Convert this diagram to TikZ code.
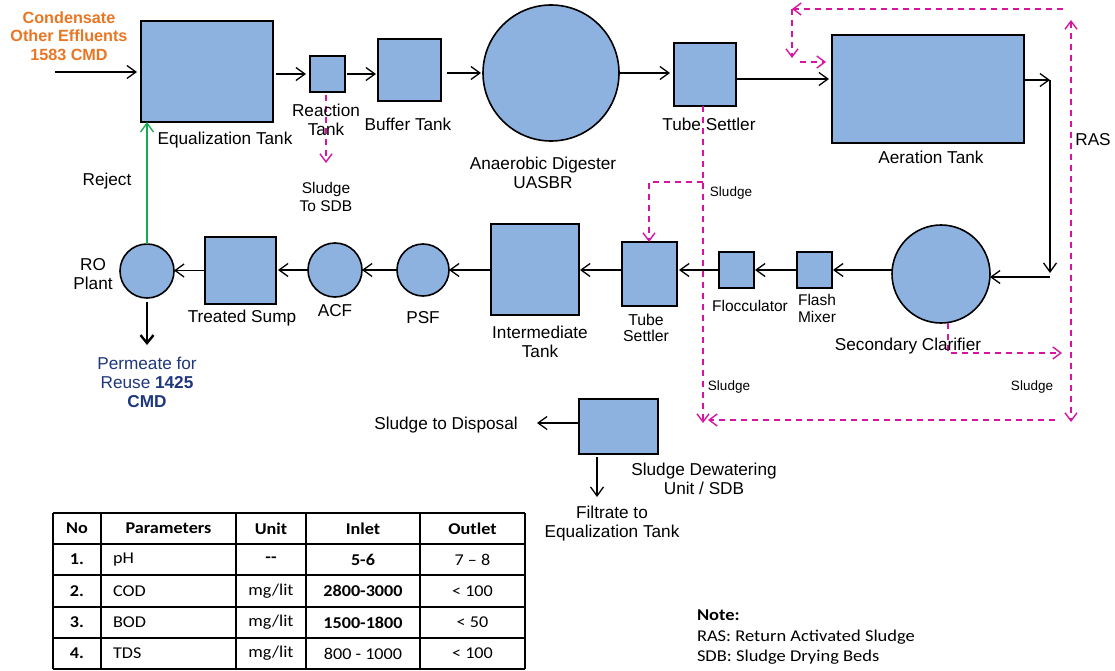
\documentclass[tikz,border=0pt]{standalone}
\usepackage{fontspec}
\setmainfont{Liberation Sans}
\newfontfamily\tabfont[FakeStretch=1.1]{Carlito}
\newfontfamily\notefont[FakeStretch=1.12]{Carlito}
\usetikzlibrary{arrows.meta}
\definecolor{tankblue}{RGB}{142,178,224}
\definecolor{sludgemag}{RGB}{214,20,160}
\definecolor{inorange}{RGB}{232,118,34}
\definecolor{outblue}{RGB}{30,55,125}
\definecolor{rejgreen}{RGB}{20,170,80}
\begin{document}
\begin{tikzpicture}[x=1pt,y=-1pt,
  every node/.style={inner sep=0pt, outer sep=0pt},
  tank/.style={draw=black, fill=tankblue, line width=1.6pt, rectangle},
  vessel/.style={draw=black, fill=tankblue, line width=1.6pt, circle},
  lbl/.style={font=\fontsize{17.2}{19}\selectfont, align=center},
  slbl/.style={font=\fontsize{15.5}{17}\selectfont, align=center},
  tlbl/.style={font=\fontsize{13.5}{16}\selectfont, align=center},
  flow/.style={line width=1.3pt, -{Straight Barb[length=9pt,width=13pt,line width=1.3pt]}},
  sludge/.style={draw=sludgemag, line width=1.5pt, dash pattern=on 6pt off 5pt},
  sarrow/.style={-{Straight Barb[length=8pt,width=12pt,line width=1.4pt]}},
  tabtxt/.style={font=\tabfont\fontsize{16.5}{18}\selectfont},
  tabhead/.style={font=\tabfont\bfseries\fontsize{16.5}{18}\selectfont},
]
\useasboundingbox (0,0) rectangle (1115,671);

% ---------- tanks ----------
\node[tank, minimum width=132pt, minimum height=101pt] (eq) at (207,71.5) {};
\node[tank, minimum width=35pt, minimum height=36pt] (react) at (327.5,74) {};
\node[tank, minimum width=63pt, minimum height=62pt] (buffer) at (409.5,70) {};
\node[vessel, minimum size=136pt] (uasbr) at (551,73) {};
\node[tank, minimum width=62pt, minimum height=63pt] (ts1) at (705,74.5) {};
\node[tank, minimum width=192pt, minimum height=108pt] (aer) at (928,89) {};
\node[vessel, minimum size=98pt] (clar) at (941,274) {};
\node[tank, minimum width=35pt, minimum height=36pt] (flash) at (814.5,270) {};
\node[tank, minimum width=35pt, minimum height=36pt] (floc) at (736.5,270) {};
\node[tank, minimum width=55pt, minimum height=64pt] (ts2) at (649.5,274) {};
\node[tank, minimum width=88pt, minimum height=91pt] (inter) at (535,269.5) {};
\node[vessel, minimum size=52pt] (psf) at (423,270) {};
\node[vessel, minimum size=54pt] (acf) at (335,270) {};
\node[tank, minimum width=71pt, minimum height=67pt] (sump) at (240.5,270.5) {};
\node[vessel, minimum size=54pt] (ro) at (147,271) {};
\node[tank, minimum width=79pt, minimum height=55pt] (sdu) at (618.5,426.5) {};

% ---------- coordinates ----------
\coordinate (in) at (55,72);
\coordinate (c1) at (1050,80);
\coordinate (c2) at (1050,273);
\coordinate (c3) at (1050,277);
\coordinate (perm) at (147,345);
\coordinate (disp) at (537,423);
\coordinate (filt) at (597,497);
\coordinate (rs) at (326,163);
\coordinate (t1) at (703,182);
\coordinate (t2) at (649,182);
\coordinate (t3) at (703,423);
\coordinate (k1) at (948,353);
\coordinate (k2) at (1062,353);
\coordinate (r1) at (1071,422);
\coordinate (r2) at (1071,20);
\coordinate (q1) at (1063,9);
\coordinate (q2) at (792,9);
\coordinate (q3) at (792,58);
\coordinate (q4) at (800,62);
\coordinate (q5) at (826,62);
\coordinate (b1) at (1055,420);
\coordinate (b2) at (708,420);

% ---------- main flow ----------
\draw[flow, shorten >=4pt] (in) -- (in -| eq.west);
\draw[flow, shorten <=3pt, shorten >=4pt] (eq.east |- react) -- (react.west);
\draw[flow, shorten <=2pt, shorten >=2pt] (react.east) -- (react -| buffer.west);
\draw[flow, shorten <=6pt, shorten >=2pt] (buffer.east |- uasbr) -- (uasbr.west);
\draw[flow, shorten >=4pt] (uasbr.east) -- (uasbr -| ts1.west);
\draw[flow, shorten >=3pt] ([yshift=-4.5pt]ts1.east) -- ([yshift=-4.5pt]ts1.east -| aer.west);
\draw[flow] ([yshift=9pt]aer.east) -- (c1);
\draw[flow] (c1) -- (c2);
\draw[flow] (c3) -- (c3 -| clar.east);
\draw[flow, shorten >=1pt] (clar.west |- flash) -- (flash.east);
\draw[flow, shorten >=1pt] (flash.west) -- (floc.east);
\draw[flow, shorten >=2pt] (floc.west) -- (floc -| ts2.east);
\draw[flow, shorten >=1pt] ([yshift=-0.5pt]ts2.west |- inter) -- ([yshift=-0.5pt]inter.east);
\draw[flow] (inter.west |- psf) -- (psf.east);
\draw[flow] (psf.west) -- (acf.east);
\draw[flow, shorten >=2pt] (acf.west) -- (acf -| sump.east);
\draw[flow] (sump.west) -- (sump -| ro.east);
\draw[draw=rejgreen, line width=1.3pt, -{Straight Barb[length=9pt,width=13pt,line width=1.3pt]}] (ro.north) -- (ro.north |- eq.south);
\draw[line width=2.6pt, -{Straight Barb[length=8pt,width=13pt,line width=2.4pt]}, shorten <=4pt] (ro.south) -- (perm);
\draw[flow] (disp -| sdu.west) -- (disp);
\draw[flow, shorten <=3pt] (filt |- sdu.south) -- (filt);

% ---------- sludge lines ----------
\draw[sludge, sarrow, shorten <=3pt] (rs |- react.south) -- (rs);
\draw[sludge, sarrow] (t1 |- ts1.south) -- (t3);
\draw[sludge, sarrow] (t1) -- (t2) -- (t2 |- ts2.north);
\draw[sludge, sarrow] (k1 |- clar.south) -- (k1) -- (k2);
\draw[sludge, {Straight Barb[length=8pt,width=12pt,line width=1.4pt]}-{Straight Barb[length=8pt,width=12pt,line width=1.4pt]}] (r2) -- (r1);
\draw[sludge, sarrow] (q1) -- (q2);
\draw[sludge, sarrow] (q2) -- (q3);
\draw[sludge, sarrow] (q4) -- (q5);
\draw[sludge, sarrow] (b1) -- (b2);

% ---------- labels ----------
\node[lbl, text=inorange, font=\bfseries\fontsize{16.2}{18.5}\selectfont] (cond) at (69,36) {Condensate\\Other Effluents\\1583 CMD};
\node[lbl] (eqL) at (225,140) {Equalization Tank};
\node[lbl] (reactL) at (326,119.5) {Reaction\\Tank};
\node[lbl] (bufL) at (408,124) {Buffer Tank};
\node[slbl, font=\fontsize{15.5}{18}\selectfont] (rsL) at (326,197) {Sludge\\To SDB};
\node[lbl] (uasbrL) at (543,172.5) {Anaerobic Digester\\UASBR};
\node[lbl] (ts1L) at (709,124) {Tube Settler};
\node[tlbl] (s1L) at (731,193) {Sludge};
\node[lbl] (aerL) at (931,157) {Aeration Tank};
\node[lbl] (rasL) at (1093,140) {RAS};
\node[lbl] (rejL) at (107,181) {Reject};
\node[lbl] (roL) at (93,274.5) {RO\\Plant};
\node[lbl] (sumpL) at (242,318) {Treated Sump};
\node[lbl] (acfL) at (335,311) {ACF};
\node[lbl] (psfL) at (423,318) {PSF};
\node[lbl] (interL) at (540,342) {Intermediate\\Tank};
\node[slbl, font=\fontsize{15.8}{16}\selectfont] (ts2L) at (646,328) {Tube\\Settler};
\node[slbl] (flocL) at (750,306) {Flocculator};
\node[slbl] (flashL) at (817,308.5) {Flash\\Mixer};
\node[lbl] (clarL) at (908,346) {Secondary Clarifier};
\node[tlbl] (s2L) at (729,387) {Sludge};
\node[tlbl] (s3L) at (1032,387) {Sludge};
\node[lbl] (dispL) at (446,425) {Sludge to Disposal};
\node[lbl] (sduL) at (704,479) {Sludge Dewatering\\Unit / SDB};
\node[lbl] (filtL) at (612,524) {Filtrate to\\Equalization Tank};
\node[lbl, text=outblue] (permL) at (147,382) {Permeate for\\Reuse \textbf{1425}\\\textbf{CMD}};

% ---------- table ----------
\foreach \x in {53,101,236,306,420,525} \draw[line width=1.6pt] (\x,513) -- (\x,669);
\foreach \y in {513,544,575,607,638,669} \draw[line width=1.6pt] (53,\y) -- (525,\y);
\node[tabhead] (h1) at (77,528.5) {No};
\node[tabhead] (h2) at (168.5,528.5) {Parameters};
\node[tabhead] (h3) at (271,528.5) {Unit};
\node[tabhead] (h4) at (363,528.5) {Inlet};
\node[tabhead] (h5) at (472.5,528.5) {Outlet};
\node[tabhead] (n1) at (77,559.5) {1.};
\node[tabhead] (n2) at (77,591) {2.};
\node[tabhead] (n3) at (77,622.5) {3.};
\node[tabhead] (n4) at (77,653.5) {4.};
\node[tabtxt, anchor=west] (p1) at (113,559.5) {pH};
\node[tabtxt, anchor=west] (p2) at (113,591) {COD};
\node[tabtxt, anchor=west] (p3) at (113,622.5) {BOD};
\node[tabtxt, anchor=west] (p4) at (113,653.5) {TDS};
\node[tabhead] (u1) at (271,559.5) {-{}-};
\node[tabtxt] (u2) at (271,591) {mg/lit};
\node[tabtxt] (u3) at (271,622.5) {mg/lit};
\node[tabtxt] (u4) at (271,653.5) {mg/lit};
\node[tabhead] (i1) at (363,559.5) {5-6};
\node[tabhead] (i2) at (363,591) {2800-3000};
\node[tabhead] (i3) at (363,622.5) {1500-1800};
\node[tabtxt] (i4) at (363,653.5) {800 - 1000};
\node[tabtxt] (o1) at (472.5,559.5) {7 – 8};
\node[tabtxt] (o2) at (472.5,591) {< 100};
\node[tabtxt] (o3) at (472.5,622.5) {< 50};
\node[tabtxt] (o4) at (472.5,653.5) {< 100};

% ---------- note ----------
\node[anchor=north west, align=left, font=\notefont\fontsize{16.5}{20.5}\selectfont] (note) at (697,610) {\textbf{Note:}\\RAS: Return Activated Sludge\\SDB: Sludge Drying Beds};
\end{tikzpicture}
\end{document}
